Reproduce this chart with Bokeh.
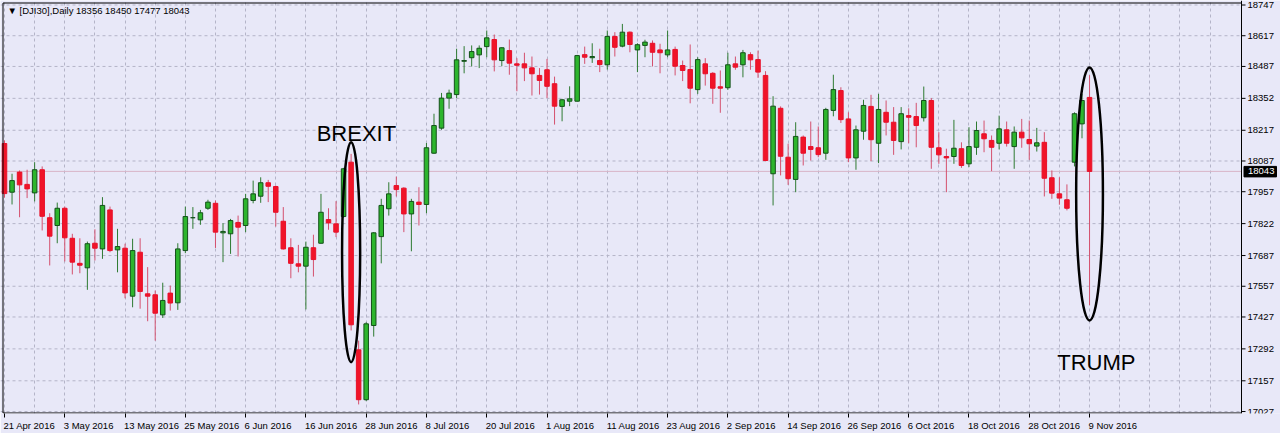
from bokeh.plotting import figure
from bokeh.models import (ColumnDataSource, FixedTicker, Span, Label, LinearAxis,
                          CustomJSTickFormatter)
from bokeh.embed import file_html
from bokeh.resources import INLINE
from bokeh.core.properties import value

# ---------------- data ----------------
title_text = "\u25BC [DJI30],Daily  18356 18450 17477 18043"

opens = [18161, 17955, 18040, 17988, 17952, 18050, 17847, 17814, 17887, 17760,
         17654, 17635, 17739, 17715, 17880, 17711, 17718, 17515, 17701, 17525,
         17521, 17436, 17528, 17487, 17708, 17847, 17838, 17887, 17908, 17783,
         17779, 17827, 17814, 17920, 17938, 17995, 17979, 17832, 17720, 17652,
         17642, 17720, 17739, 17839, 17821, 17852, 18082, 17288, 17077, 17391,
         17767, 17885, 17983, 17972, 17863, 17913, 17903, 18120, 18226, 18353,
         18368, 18509, 18524, 18536, 18571, 18601, 18512, 18554, 18498, 18498,
         18481, 18449, 18473, 18414, 18318, 18340, 18340, 18537, 18524, 18512,
         18494, 18614, 18573, 18632, 18557, 18576, 18585, 18557, 18536, 18559,
         18491, 18474, 18389, 18498, 18458, 18401, 18397, 18498, 18494, 18537,
         18516, 18449, 18033, 18310, 18103, 18009, 18188, 18148, 18143, 18120,
         18301, 18385, 18265, 18100, 18213, 18318, 18162, 18293, 18251, 18169,
         18279, 18275, 18270, 18343, 18143, 18106, 18106, 18139, 18075, 18145,
         18202, 18174, 18162, 18219, 18148, 18209, 18178, 18150, 18166, 18016,
         17948, 17923, 18082, 18244, 18356]

highs = [18174, 18033, 18047, 18050, 18082, 18064, 17866, 17911, 17894, 17779,
         17760, 17746, 17798, 17934, 17894, 17800, 17737, 17758, 17760, 17638,
         17539, 17572, 17560, 17739, 17894, 17892, 17880, 17923, 17920, 17824,
         17842, 17856, 17948, 18004, 18018, 18007, 17983, 17892, 17760, 17732,
         17746, 17775, 17948, 17887, 17917, 18058, 18117, 17327, 17405, 17786,
         17927, 17997, 18021, 17976, 17927, 17976, 18163, 18287, 18375, 18389,
         18562, 18573, 18576, 18576, 18639, 18622, 18568, 18601, 18522, 18545,
         18529, 18480, 18519, 18444, 18350, 18403, 18536, 18571, 18585, 18562,
         18639, 18632, 18667, 18635, 18585, 18600, 18597, 18583, 18639, 18571,
         18512, 18580, 18526, 18522, 18463, 18470, 18545, 18529, 18557, 18547,
         18554, 18467, 18361, 18318, 18160, 18251, 18195, 18254, 18233, 18312,
         18452, 18399, 18293, 18237, 18346, 18367, 18371, 18343, 18315, 18315,
         18310, 18333, 18402, 18353, 18209, 18139, 18261, 18166, 18230, 18254,
         18258, 18195, 18279, 18254, 18233, 18265, 18258, 18227, 18209, 18047,
         18018, 17988, 18293, 18371, 18450]

lows = [17932, 17903, 17849, 17930, 17916, 17793, 17645, 17739, 17662, 17607,
        17612, 17542, 17666, 17673, 17701, 17616, 17506, 17468, 17462, 17409,
        17327, 17423, 17454, 17457, 17697, 17800, 17817, 17880, 17719, 17659,
        17694, 17683, 17786, 17908, 17910, 17913, 17810, 17712, 17591, 17616,
        17459, 17598, 17737, 17796, 17765, 17847, 17370, 17057, 17071, 17344,
        17654, 17856, 17937, 17786, 17705, 17814, 17866, 18117, 18219, 18308,
        18353, 18458, 18487, 18480, 18526, 18466, 18488, 18452, 18382, 18425,
        18364, 18368, 18353, 18241, 18255, 18319, 18339, 18498, 18502, 18463,
        18474, 18529, 18568, 18547, 18463, 18526, 18487, 18458, 18526, 18449,
        18425, 18331, 18371, 18406, 18329, 18291, 18388, 18473, 18441, 18473,
        18439, 18086, 17899, 18026, 17986, 17955, 18068, 18089, 18103, 18092,
        18276, 18248, 18082, 18050, 18177, 18086, 18078, 18195, 18113, 18136,
        18162, 18145, 18254, 18054, 18075, 17955, 18075, 18058, 18061, 18113,
        18124, 18044, 18136, 18148, 18054, 18143, 18092, 18127, 17937, 17927,
        17902, 17878, 18064, 18183, 17477]

closes = [17949, 18004, 17986, 17969, 18050, 17853, 17769, 17887, 17762, 17659,
          17646, 17737, 17718, 17899, 17708, 17725, 17529, 17708, 17535, 17515,
          17443, 17497, 17486, 17715, 17852, 17847, 17868, 17913, 17786, 17789,
          17835, 17807, 17927, 17948, 17995, 17980, 17870, 17715, 17654, 17642,
          17722, 17670, 17870, 17825, 17786, 18054, 17394, 17077, 17398, 17783,
          17899, 17948, 17966, 17863, 17916, 17903, 18143, 18237, 18353, 18374,
          18515, 18512, 18550, 18564, 18608, 18515, 18566, 18501, 18492, 18481,
          18456, 18428, 18403, 18319, 18346, 18350, 18533, 18526, 18529, 18495,
          18614, 18568, 18632, 18580, 18579, 18590, 18547, 18545, 18557, 18488,
          18470, 18395, 18516, 18456, 18395, 18395, 18494, 18484, 18545, 18515,
          18463, 18089, 18319, 18107, 18012, 18191, 18120, 18136, 18114, 18305,
          18389, 18262, 18100, 18219, 18322, 18177, 18305, 18251, 18174, 18287,
          18272, 18237, 18343, 18145, 18113, 18100, 18141, 18068, 18148, 18216,
          18181, 18145, 18223, 18162, 18209, 18185, 18160, 18164, 18014, 17951,
          17930, 17887, 18287, 18343, 18043]

date_labels = ["21 Apr 2016", "3 May 2016", "13 May 2016", "25 May 2016", "6 Jun 2016",
               "16 Jun 2016", "28 Jun 2016", "8 Jul 2016", "20 Jul 2016", "1 Aug 2016",
               "11 Aug 2016", "23 Aug 2016", "2 Sep 2016", "14 Sep 2016", "26 Sep 2016",
               "6 Oct 2016", "18 Oct 2016", "28 Oct 2016", "9 Nov 2016"]
label_step = 8          # bars between date labels
grid_step = 4           # bars between vertical grid lines

price_ticks = [17027, 17157, 17292, 17427, 17557, 17687, 17822, 17957,
               18087, 18217, 18352, 18487, 18617, 18747]
last_price = 18043

event_names = ["BREXIT", "TRUMP"]
event_bars = [46, 144]
event_top = [18166, 18483]
event_bottom = [17236, 17412]
event_width_bars = [2.4, 3.55]
event_text_bar = [46.7, 144.9]
event_text_price = [18203, 17234]

# ---------------- styling / layout ----------------
BG = "#E8E8F8"
GRID = "#B4B4C8"
BULL_FILL = "#2DB52D"
BULL_LINE = "#14501A"
BULL_WICK = "#2E7A32"
BEAR_FILL = "#F01428"
BEAR_LINE = "#E8102A"
BEAR_WICK = "#D4506E"
PRICE_LINE = "#D8B4C8"
FONT = "Liberation Sans"
FS = "9.5px"

W_PX, FRAME_H = 1280, 413
PX_PER_BAR = 7.535
PRICE_PER_PX = 4.231


def dx(px):
    return px / PX_PER_BAR


def dy(px):
    return px * PRICE_PER_PX


x_start = -dx(4)                  # first bar sits 4px from the left
x_end = x_start + dx(W_PX)
y_end = price_ticks[-1] + dy(4.5)
y_start = y_end - dy(FRAME_H)
x_axis = x_start + dx(1241)       # price-scale line
x_left_b = x_start + dx(2.5)
y_top_b = y_end - dy(2.5)
y_bot_b = y_end - dy(FRAME_H - 0.5)

CW = {' ': 0.278, 'A': 0.667, 'p': 0.556, 'r': 0.333, 'M': 0.833, 'a': 0.556,
      'y': 0.5, 'J': 0.5, 'u': 0.556, 'n': 0.556, 'l': 0.222, 'g': 0.556,
      'S': 0.667, 'e': 0.556, 'O': 0.778, 'c': 0.5, 't': 0.278, 'N': 0.722,
      'o': 0.556, 'v': 0.5}


def text_px(s, size=9.5):
    return sum(CW.get(ch, 0.556) for ch in s) * size


n = len(opens)
idx = list(range(n))
bull = [c >= o for o, c in zip(opens, closes)]

src = ColumnDataSource(dict(
    x=idx,
    top=[max(o, c) for o, c in zip(opens, closes)],
    bottom=[min(o, c) for o, c in zip(opens, closes)],
    high=highs, low=lows,
    fill=[BULL_FILL if b else BEAR_FILL for b in bull],
    line=[BULL_LINE if b else BEAR_LINE for b in bull],
    wick=[BULL_WICK if b else BEAR_WICK for b in bull],
))

p = figure(frame_width=W_PX, frame_height=FRAME_H,
           x_range=(x_start, x_end), y_range=(y_start, y_end),
           y_axis_location=None, output_backend="svg", toolbar_location=None,
           min_border=0)

p.background_fill_color = BG
p.border_fill_color = BG
p.outline_line_color = None

# vertical grid (real grid, every 4 bars)
p.xgrid.ticker = FixedTicker(ticks=[t for t in range(0, int(x_axis), grid_step) if t < x_axis - 1])
p.xgrid.grid_line_color = GRID
p.xgrid.grid_line_dash = "3 3"
p.ygrid.visible = False

# x axis 1: tick marks at the labelled bars
bar_ticks = [i * label_step for i in range(len(date_labels))]
xa = p.xaxis[0]
xa.ticker = FixedTicker(ticks=bar_ticks)
xa.formatter = CustomJSTickFormatter(code="return ''")
xa.major_tick_out = 4
xa.major_tick_in = 0
xa.minor_tick_out = 0
xa.minor_tick_in = 0
xa.major_tick_line_color = "black"
xa.major_label_text_font_size = "0px"
xa.major_label_standoff = 0
xa.axis_line_color = None

# x axis 2: date labels, left-aligned on their bar (MetaTrader style)
label_pos = [b + dx(text_px(s) / 2 - 1) for b, s in zip(bar_ticks, date_labels)]
la = LinearAxis(ticker=FixedTicker(ticks=label_pos),
                formatter=CustomJSTickFormatter(args=dict(labels=date_labels),
                                                code="return labels[index] || ''"))
la.major_tick_out = 0
la.major_tick_in = 0
la.minor_tick_out = 0
la.minor_tick_in = 0
la.axis_line_color = None
la.major_label_standoff = 2
la.major_label_text_font = FONT
la.major_label_text_font_size = FS
la.major_label_text_color = "black"
p.add_layout(la, "below")

# horizontal grid up to the price scale
p.segment(x0=[x_start] * len(price_ticks), y0=price_ticks,
          x1=[x_axis] * len(price_ticks), y1=price_ticks,
          line_color=GRID, line_dash="3 3", line_width=1)

# current price line
p.segment(x0=[x_start], y0=[last_price], x1=[x_axis], y1=[last_price],
          line_color=PRICE_LINE, line_width=1)

# candles
p.segment(x0="x", y0="low", x1="x", y1="high", line_color="wick", line_width=1, source=src)
p.vbar(x="x", top="top", bottom="bottom", width=0.6, fill_color="fill",
       line_color="line", line_width=1, source=src)

# chart border (top / left / bottom) and price-scale line
p.multi_line(xs=[[x_left_b, x_axis], [x_left_b, x_left_b], [x_left_b, x_axis]],
             ys=[[y_top_b, y_top_b], [y_top_b, y_bot_b], [y_bot_b, y_bot_b]],
             line_color="black", line_width=1)
p.add_layout(Span(location=x_axis, dimension="height", line_color="black", line_width=1))

# price scale ticks and labels
p.segment(x0=[x_axis] * len(price_ticks), y0=price_ticks,
          x1=[x_axis + dx(4)] * len(price_ticks), y1=price_ticks,
          line_color="black", line_width=1)
p.text(x=[x_axis + dx(6)] * len(price_ticks), y=price_ticks,
       text=[str(t) for t in price_ticks], text_font=value(FONT), text_font_size=FS,
       text_color="black", text_align="left", text_baseline="middle")

# current price box on the scale
p.quad(left=[x_axis + dx(2.5)], right=[x_axis + dx(35)],
       top=[last_price + dy(5)], bottom=[last_price - dy(5.5)],
       fill_color="black", line_color="black")
p.text(x=[x_axis + dx(6.5)], y=[last_price], text=[str(last_price)],
       text_font=value(FONT), text_font_size=FS, text_color="white",
       text_align="left", text_baseline="middle")

# event ellipses and labels
p.ellipse(x=event_bars,
          y=[(t + b) / 2 for t, b in zip(event_top, event_bottom)],
          width=event_width_bars,
          height=[t - b for t, b in zip(event_top, event_bottom)],
          fill_color=None, line_color="black", line_width=2.5)
p.text(x=event_text_bar, y=event_text_price, text=event_names,
       text_font=value(FONT), text_font_size="22px", text_color="black",
       text_align="center", text_baseline="alphabetic")

# title
p.add_layout(Label(x=x_start + dx(7), y=y_end - dy(4.5), text=title_text, text_font=FONT,
                   text_font_size=FS, text_color="black", text_baseline="top"))

open("out.html", "w").write(file_html(p, INLINE))
